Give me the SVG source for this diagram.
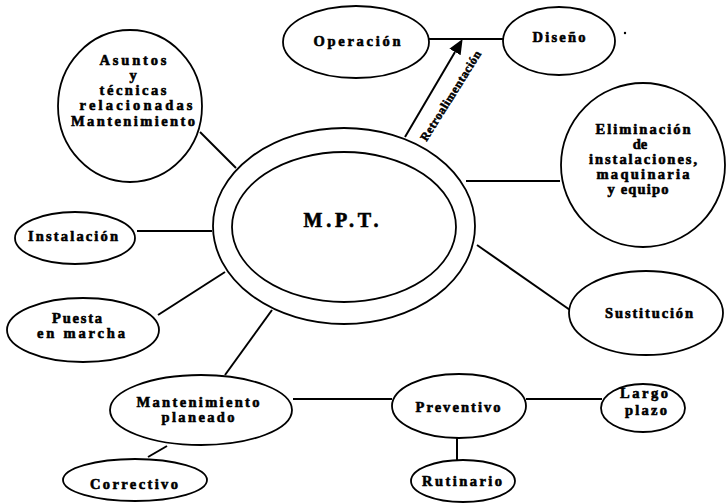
<svg xmlns="http://www.w3.org/2000/svg" width="727" height="503" viewBox="0 0 727 503">
  <style>
    .n { fill: #fff; stroke: #000; stroke-width: 1.8; }
    .c { stroke: #000; stroke-width: 2; fill: none; }
    text { font-family: "Liberation Serif", "Times New Roman", serif; font-weight: bold; font-size: 14.5px; fill: #000; stroke: #000; stroke-width: 0.6; text-anchor: middle; }
    .big { font-size: 20px; stroke-width: 0.6; }
    .small { font-size: 12px; stroke-width: 0.5; }
  </style>
  <defs>
    <marker id="ah" markerUnits="userSpaceOnUse" markerWidth="16" markerHeight="14" refX="0" refY="6.5" orient="auto">
      <path d="M0,0 L15,6.5 L0,13 z" fill="#000"/>
    </marker>
  </defs>

  <g id="connectors">
    <line class="c" x1="200" y1="132" x2="236" y2="168"/>
    <line class="c" x1="137" y1="231" x2="212" y2="231"/>
    <line class="c" x1="158" y1="315" x2="225" y2="272"/>
    <line class="c" x1="225" y1="375" x2="272" y2="310"/>
    <line class="c" x1="466" y1="181" x2="560" y2="181"/>
    <line class="c" x1="477" y1="245" x2="570" y2="310"/>
    <line class="c" x1="428" y1="39" x2="503" y2="39"/>
    <line class="c" x1="405" y1="137" x2="455" y2="52" stroke-width="2.5" marker-end="url(#ah)"/>
    <line class="c" x1="293" y1="399" x2="392" y2="399"/>
    <line class="c" x1="526" y1="399" x2="602" y2="399"/>
    <line class="c" x1="457" y1="438" x2="457" y2="460"/>
    <line class="c" x1="167" y1="446" x2="148" y2="457"/>
    <text class="small" transform="translate(454,98) rotate(-58)" textLength="104" lengthAdjust="spacing">Retroalimentación</text>
  </g>

  <g id="mpt">
    <ellipse class="n" cx="344" cy="226" rx="131" ry="98"/>
    <ellipse class="n" cx="344" cy="227" rx="112" ry="75"/>
    <text class="big" x="341" y="227" textLength="75" lengthAdjust="spacing">M.P.T.</text>
  </g>

  <g id="asuntos">
    <ellipse class="n" cx="130" cy="106" rx="72" ry="76"/>
    <text x="133" y="65" textLength="67" lengthAdjust="spacing">Asuntos</text>
    <text x="133" y="80">y</text>
    <text x="133" y="95" textLength="67" lengthAdjust="spacing">técnicas</text>
    <text x="136" y="110" textLength="113" lengthAdjust="spacing">relacionadas</text>
    <text x="133" y="126" textLength="124" lengthAdjust="spacing">Mantenimiento</text>
  </g>

  <g id="operacion">
    <ellipse class="n" cx="356" cy="42" rx="73" ry="36"/>
    <text x="357" y="46" textLength="87" lengthAdjust="spacing">Operación</text>
  </g>

  <g id="diseno">
    <ellipse class="n" cx="559" cy="41" rx="56" ry="34"/>
    <text x="559" y="42" textLength="53" lengthAdjust="spacing">Diseño</text>
    <circle cx="625" cy="33" r="1.2" fill="#000"/>
  </g>

  <g id="eliminacion">
    <ellipse class="n" cx="643" cy="165" rx="82" ry="82"/>
    <text x="643" y="134" textLength="95" lengthAdjust="spacing">Eliminación</text>
    <text x="640" y="149">de</text>
    <text x="643" y="164" textLength="108" lengthAdjust="spacing">instalaciones,</text>
    <text x="643" y="179" textLength="93" lengthAdjust="spacing">maquinaria</text>
    <text x="638" y="194" textLength="61" lengthAdjust="spacing">y equipo</text>
  </g>

  <g id="instalacion">
    <ellipse class="n" cx="75" cy="238" rx="60" ry="26"/>
    <text x="73" y="241" textLength="90" lengthAdjust="spacing">Instalación</text>
  </g>

  <g id="puesta">
    <ellipse class="n" cx="83" cy="330" rx="76" ry="32"/>
    <text x="77" y="323" textLength="50" lengthAdjust="spacing">Puesta</text>
    <text x="81" y="338" textLength="88" lengthAdjust="spacing">en marcha</text>
  </g>

  <g id="sustitucion">
    <ellipse class="n" cx="646" cy="313" rx="77" ry="42"/>
    <text x="649" y="318" textLength="88" lengthAdjust="spacing">Sustitución</text>
  </g>

  <g id="mantenimiento">
    <ellipse class="n" cx="201" cy="410" rx="91" ry="35"/>
    <text x="198" y="407" textLength="123" lengthAdjust="spacing">Mantenimiento</text>
    <text x="198" y="422" textLength="73" lengthAdjust="spacing">planeado</text>
  </g>

  <g id="preventivo">
    <ellipse class="n" cx="459" cy="406" rx="67" ry="32"/>
    <text x="458" y="412" textLength="85" lengthAdjust="spacing">Preventivo</text>
  </g>

  <g id="largo">
    <ellipse class="n" cx="643" cy="408" rx="42" ry="24"/>
    <text x="644" y="398" textLength="48" lengthAdjust="spacing">Largo</text>
    <text x="646" y="415" textLength="42" lengthAdjust="spacing">plazo</text>
  </g>

  <g id="rutinario">
    <ellipse class="n" cx="463" cy="481" rx="52" ry="21"/>
    <text x="462" y="486" textLength="80" lengthAdjust="spacing">Rutinario</text>
  </g>

  <g id="correctivo">
    <ellipse class="n" cx="135" cy="480" rx="72" ry="21"/>
    <text x="134" y="489" textLength="88" lengthAdjust="spacing">Correctivo</text>
  </g>
</svg>
